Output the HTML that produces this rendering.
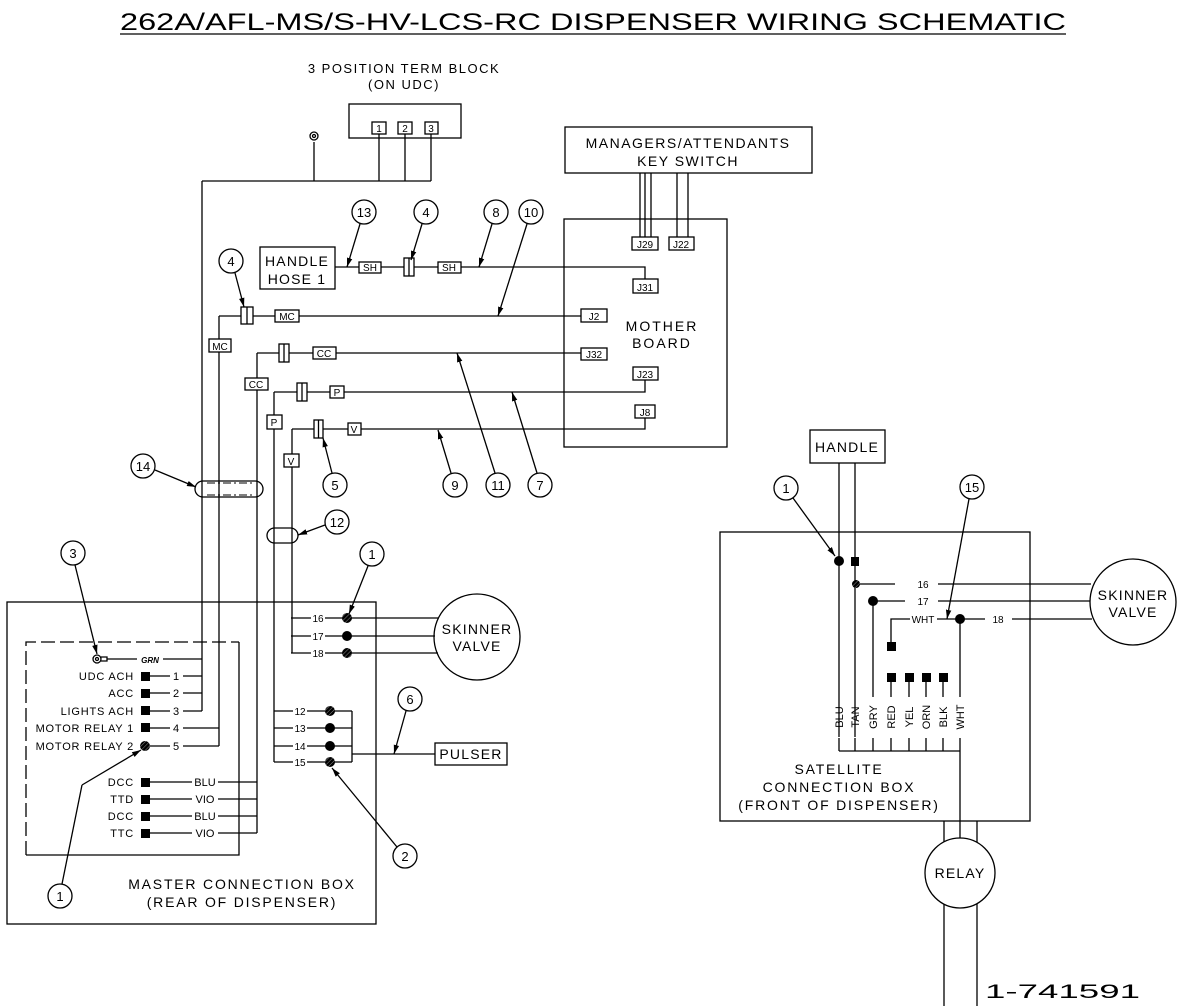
<!DOCTYPE html>
<html><head><meta charset="utf-8"><style>
html,body{margin:0;padding:0;background:#fff}
svg{display:block}
text{font-family:"Liberation Sans",sans-serif;fill:#000}
</style></head><body>
<svg width="1186" height="1006" viewBox="0 0 1186 1006" xmlns="http://www.w3.org/2000/svg">
<defs>
<marker id="ar" viewBox="0 0 10 10" refX="10" refY="5" markerWidth="7" markerHeight="7" orient="auto-start-reverse"><path d="M0,2 L10,5 L0,8 z" fill="#000"/></marker>
<pattern id="hat" width="3" height="3" patternUnits="userSpaceOnUse" patternTransform="rotate(45)"><rect width="3" height="3" fill="#000"/><line x1="0" y1="0" x2="0" y2="3" stroke="#888" stroke-width="1"/></pattern>
</defs>
<g fill="none" stroke="#000" stroke-width="1.3">
<line x1="120" y1="34" x2="1066" y2="34"/>
</g>
<text x="120" y="30" font-size="24" textLength="946" lengthAdjust="spacingAndGlyphs">262A/AFL-MS/S-HV-LCS-RC DISPENSER WIRING SCHEMATIC</text>
<text x="985" y="998" font-size="19" textLength="155" lengthAdjust="spacingAndGlyphs">1-741591</text>

<g fill="none" stroke="#000" stroke-width="1.3">
<rect x="349" y="104" width="112" height="34"/>
<rect x="372" y="122" width="14" height="12"/>
<rect x="398" y="122" width="14" height="12"/>
<rect x="425" y="122" width="13" height="12"/>
<path d="M379,134V181 M405,134V181 M431,134V181 M202,181H431 M202,181V711 M314,142V181"/>
<circle cx="314" cy="136" r="4"/><circle cx="314" cy="136" r="1.5"/>
<rect x="565" y="127" width="247" height="46"/>
<path d="M640,173V237 M645,173V237 M651,173V237 M677,173V237 M688,173V237"/>
<rect x="632" y="237" width="26" height="13"/>
<rect x="669" y="237" width="25" height="13"/>
<rect x="564" y="219" width="163" height="228"/>
<rect x="633" y="279" width="25" height="14"/>
<rect x="581" y="309" width="26" height="13"/>
<rect x="581" y="348" width="26" height="12"/>
<rect x="633" y="367" width="25" height="13"/>
<rect x="635" y="405" width="20" height="13"/>
<rect x="260" y="247" width="75" height="42"/>
<path d="M335,267H359 M381,267H404 M414,267H438 M461,267H645V279"/>
<rect x="359" y="262" width="22" height="11"/>
<rect x="404" y="258" width="10" height="18"/><line x1="409" y1="258" x2="409" y2="276"/>
<rect x="438" y="262" width="23" height="11"/>
<path d="M219,316H241 M253,316H275 M299,316H581 M219,316V339 M219,352V746"/>
<rect x="241" y="307" width="12" height="17"/><line x1="247" y1="307" x2="247" y2="324"/>
<rect x="275" y="310" width="24" height="12"/>
<rect x="209" y="339" width="22" height="13"/>
<path d="M257,353H279 M289,353H313 M336,353H581 M257,353V378 M257,390V833"/>
<rect x="279" y="344" width="10" height="18"/><line x1="284" y1="344" x2="284" y2="362"/>
<rect x="313" y="347" width="23" height="12"/>
<rect x="245" y="378" width="23" height="12"/>
<path d="M274,392H297 M307,392H330 M344,392H645V380 M274,392V415 M274,429V762"/>
<rect x="297" y="383" width="10" height="18"/><line x1="302" y1="383" x2="302" y2="401"/>
<rect x="330" y="386" width="14" height="12"/>
<rect x="267" y="415" width="15" height="14"/>
<path d="M292,429H314 M323,429H348 M361,429H645V418 M292,429V454 M292,467V653"/>
<rect x="314" y="420" width="9" height="18"/><line x1="318.5" y1="420" x2="318.5" y2="438"/>
<rect x="348" y="423" width="13" height="12"/>
<rect x="284" y="454" width="15" height="13"/>
<circle cx="364" cy="212" r="12"/><circle cx="426" cy="212" r="12"/><circle cx="496" cy="212" r="12"/><circle cx="531" cy="212" r="12"/>
<circle cx="231" cy="261" r="12"/>
<circle cx="335" cy="485" r="12"/><circle cx="455" cy="485" r="12"/><circle cx="498" cy="485" r="12"/><circle cx="540" cy="485" r="12"/>
<circle cx="143" cy="466" r="12"/>
<line x1="360" y1="224" x2="347" y2="267" marker-end="url(#ar)"/>
<line x1="422" y1="224" x2="411" y2="260" marker-end="url(#ar)"/>
<line x1="492" y1="224" x2="479" y2="267" marker-end="url(#ar)"/>
<line x1="527" y1="224" x2="498" y2="316" marker-end="url(#ar)"/>
<line x1="235" y1="273" x2="244" y2="307" marker-end="url(#ar)"/>
<line x1="332" y1="473" x2="323" y2="438" marker-end="url(#ar)"/>
<line x1="451" y1="473" x2="438" y2="430" marker-end="url(#ar)"/>
<line x1="495" y1="473" x2="457" y2="353" marker-end="url(#ar)"/>
<line x1="537" y1="473" x2="512" y2="392" marker-end="url(#ar)"/>
<line x1="155" y1="470" x2="196" y2="487" marker-end="url(#ar)"/>
<rect x="195" y="481" width="68" height="16" rx="8"/>
<path d="M207,483H253 M207,495H253" stroke-dasharray="8,3,2,3" stroke-width="1"/>
<rect x="267" y="528" width="31" height="15" rx="7.5"/>
<circle cx="337" cy="522" r="12"/>
<line x1="325" y1="525" x2="298" y2="535" marker-end="url(#ar)"/>
<rect x="7" y="602" width="369" height="322"/>
<path d="M26,855V642H239" stroke-dasharray="14,5"/>
<path d="M239,642V855H26"/>
<circle cx="97" cy="659" r="4"/><circle cx="97" cy="659" r="1.5"/>
<path d="M101,657H107V661H101 M107,659H137 M163,659H202"/>
<path d="M150,676H170 M183,676H202 M150,693H170 M183,693H202 M150,711H170 M183,711H202 M150,728H170 M183,728H219 M150,746H170 M183,746H219"/>
<path d="M150,782H192 M218,782H257 M150,799H192 M218,799H257 M150,816H192 M218,816H257 M150,833H192 M218,833H257"/>
<circle cx="73" cy="553" r="12"/>
<line x1="75" y1="565" x2="97" y2="654" marker-end="url(#ar)"/>
<circle cx="60" cy="896" r="12"/>
<path d="M62,884L82,785"/><line x1="82" y1="785" x2="141" y2="750" marker-end="url(#ar)"/>
<path d="M291,618H311 M325,618H347 M291,636H311 M325,636H347 M291,653H311 M325,653H347"/>
<path d="M347,618H438 M347,636H435 M347,653H438"/>
<circle cx="477" cy="637" r="43"/>
<circle cx="372" cy="554" r="12"/>
<line x1="368" y1="566" x2="349" y2="614" marker-end="url(#ar)"/>
<path d="M274,711H293 M307,711H330 M274,728H293 M307,728H330 M274,746H293 M307,746H330 M274,762H293 M307,762H330"/>
<path d="M330,711H352 M330,728H352 M330,746H352 M330,762H352 M352,711V762 M352,754H435"/>
<rect x="435" y="743" width="72" height="22"/>
<circle cx="410" cy="699" r="12"/>
<line x1="406" y1="711" x2="394" y2="754" marker-end="url(#ar)"/>
<circle cx="405" cy="856" r="12"/>
<line x1="397" y1="847" x2="332" y2="768" marker-end="url(#ar)"/>
<rect x="810" y="430" width="75" height="33"/>
<path d="M839,463V737 M855,463V737"/>
<rect x="720" y="532" width="310" height="289"/>
<path d="M856,584H895 M938,584H1091 M873,601H905 M938,601H1090 M873,601V697 M891,646V619H910 M937,619H960 M960,619H985 M1012,619H1092"/>
<path d="M891,681V697 M909,681V697 M926,681V697 M943,681V697 M960,619V697"/>
<path d="M839,738V751 M855,738V751 M873,738V751 M891,738V751 M909,738V751 M926,738V751 M943,738V751 M960,738V821 M839,751H960"/>
<circle cx="1133" cy="602" r="43"/>
<circle cx="786" cy="488" r="12"/>
<line x1="793" y1="498" x2="835" y2="556" marker-end="url(#ar)"/>
<circle cx="972" cy="487" r="12"/>
<line x1="969" y1="499" x2="947" y2="619" marker-end="url(#ar)"/>
<path d="M944,821V1006 M977,821V1006 M960,821V838"/>
<circle cx="960" cy="873" r="35" fill="#fff"/>
</g>

<g fill="#000">
<rect x="141" y="672" width="9" height="9"/><rect x="141" y="689" width="9" height="9"/><rect x="141" y="706" width="9" height="9"/><rect x="141" y="723" width="9" height="9"/>
<circle cx="145" cy="746" r="5" fill="url(#hat)"/>
<rect x="141" y="778" width="9" height="9"/><rect x="141" y="795" width="9" height="9"/><rect x="141" y="812" width="9" height="9"/><rect x="141" y="829" width="9" height="9"/>
<circle cx="347" cy="618" r="5" fill="url(#hat)"/><circle cx="347" cy="636" r="5"/><circle cx="347" cy="653" r="5" fill="url(#hat)"/>
<circle cx="330" cy="711" r="5" fill="url(#hat)"/><circle cx="330" cy="728" r="5"/><circle cx="330" cy="746" r="5"/><circle cx="330" cy="762" r="5" fill="url(#hat)"/>
<circle cx="839" cy="561" r="5"/><rect x="851" y="557" width="8" height="9"/>
<circle cx="856" cy="584" r="4" fill="url(#hat)"/><circle cx="873" cy="601" r="5"/>
<circle cx="960" cy="619" r="5"/>
<rect x="887" y="642" width="9" height="9"/>
<rect x="887" y="673" width="9" height="9"/><rect x="905" y="673" width="9" height="9"/><rect x="922" y="673" width="9" height="9"/><rect x="939" y="673" width="9" height="9"/>
</g>

<g font-size="13">
<text x="404" y="73" text-anchor="middle" letter-spacing="1.5">3 POSITION TERM BLOCK</text>
<text x="404" y="89" text-anchor="middle" letter-spacing="1.5">(ON UDC)</text>
<text x="688" y="148" text-anchor="middle" font-size="14" letter-spacing="1.5">MANAGERS/ATTENDANTS</text>
<text x="688" y="166" text-anchor="middle" font-size="14" letter-spacing="1.5">KEY SWITCH</text>
<text x="297" y="266" text-anchor="middle" font-size="14" letter-spacing="1.2">HANDLE</text>
<text x="297" y="284" text-anchor="middle" font-size="14" letter-spacing="1.2">HOSE 1</text>
<text x="662" y="331" text-anchor="middle" font-size="14" letter-spacing="2">MOTHER</text>
<text x="662" y="348" text-anchor="middle" font-size="14" letter-spacing="2">BOARD</text>
<text x="847" y="452" text-anchor="middle" font-size="14" letter-spacing="1.2">HANDLE</text>
<text x="477" y="634" text-anchor="middle" font-size="14" letter-spacing="1.2">SKINNER</text>
<text x="477" y="651" text-anchor="middle" font-size="14" letter-spacing="1.2">VALVE</text>
<text x="1133" y="600" text-anchor="middle" font-size="14" letter-spacing="1.2">SKINNER</text>
<text x="1133" y="617" text-anchor="middle" font-size="14" letter-spacing="1.2">VALVE</text>
<text x="471" y="759" text-anchor="middle" font-size="14" letter-spacing="1.2">PULSER</text>
<text x="960" y="878" text-anchor="middle" font-size="14" letter-spacing="1.2">RELAY</text>
<text x="242" y="889" text-anchor="middle" font-size="14" letter-spacing="1.8">MASTER CONNECTION BOX</text>
<text x="242" y="907" text-anchor="middle" font-size="14" letter-spacing="1.8">(REAR OF DISPENSER)</text>
<text x="839" y="774" text-anchor="middle" font-size="14" letter-spacing="1.8">SATELLITE</text>
<text x="839" y="792" text-anchor="middle" font-size="14" letter-spacing="1.8">CONNECTION BOX</text>
<text x="839" y="810" text-anchor="middle" font-size="14" letter-spacing="1.8">(FRONT OF DISPENSER)</text>
</g>

<g font-size="10" text-anchor="middle">
<text x="370" y="271">SH</text><text x="449" y="271">SH</text>
<text x="287" y="320">MC</text><text x="220" y="350">MC</text>
<text x="324" y="357">CC</text><text x="256" y="388">CC</text>
<text x="337" y="396">P</text><text x="274" y="426">P</text>
<text x="354" y="433">V</text><text x="291" y="465">V</text>
<text x="645" y="248">J29</text><text x="681" y="248">J22</text>
<text x="645" y="291">J31</text><text x="594" y="320">J2</text>
<text x="594" y="358">J32</text><text x="645" y="378">J23</text><text x="645" y="416">J8</text>
<text x="379" y="132">1</text><text x="405" y="132">2</text><text x="431" y="132">3</text>
</g>

<g font-size="13" text-anchor="middle">
<text x="364" y="217">13</text><text x="426" y="217">4</text><text x="496" y="217">8</text><text x="531" y="217">10</text>
<text x="231" y="266">4</text><text x="335" y="490">5</text><text x="455" y="490">9</text><text x="498" y="490">11</text><text x="540" y="490">7</text>
<text x="143" y="471">14</text><text x="337" y="527">12</text><text x="73" y="558">3</text><text x="60" y="901">1</text>
<text x="372" y="559">1</text><text x="410" y="704">6</text><text x="405" y="861">2</text>
<text x="786" y="493">1</text><text x="972" y="492">15</text>
</g>

<g font-size="11">
<text x="150" y="663" font-style="italic" font-size="8" text-anchor="middle" font-weight="bold">GRN</text>
<g text-anchor="end" letter-spacing="0.8">
<text x="134" y="680">UDC ACH</text><text x="134" y="697">ACC</text><text x="134" y="715">LIGHTS ACH</text>
<text x="134" y="732">MOTOR RELAY 1</text><text x="134" y="750">MOTOR RELAY 2</text>
<text x="134" y="786">DCC</text><text x="134" y="803">TTD</text><text x="134" y="820">DCC</text><text x="134" y="837">TTC</text>
</g>
<g text-anchor="middle">
<text x="176" y="680">1</text><text x="176" y="697">2</text><text x="176" y="715">3</text><text x="176" y="732">4</text><text x="176" y="750">5</text>
<text x="205" y="786">BLU</text><text x="205" y="803">VIO</text><text x="205" y="820">BLU</text><text x="205" y="837">VIO</text>
<text x="318" y="622" font-size="10">16</text><text x="318" y="640" font-size="10">17</text><text x="318" y="657" font-size="10">18</text>
<text x="300" y="715" font-size="10">12</text><text x="300" y="732" font-size="10">13</text><text x="300" y="750" font-size="10">14</text><text x="300" y="766" font-size="10">15</text>
<text x="923" y="588" font-size="10">16</text><text x="923" y="605" font-size="10">17</text><text x="923" y="623" font-size="10">WHT</text><text x="998" y="623" font-size="10">18</text>
</g>
<g font-size="11" text-anchor="middle">
<text transform="translate(843,717) rotate(-90)">BLU</text>
<text transform="translate(859,717) rotate(-90)">TAN</text>
<text transform="translate(877,717) rotate(-90)">GRY</text>
<text transform="translate(895,717) rotate(-90)">RED</text>
<text transform="translate(913,717) rotate(-90)">YEL</text>
<text transform="translate(930,717) rotate(-90)">ORN</text>
<text transform="translate(947,717) rotate(-90)">BLK</text>
<text transform="translate(964,717) rotate(-90)">WHT</text>
</g>
</g>
</svg>
</body></html>
